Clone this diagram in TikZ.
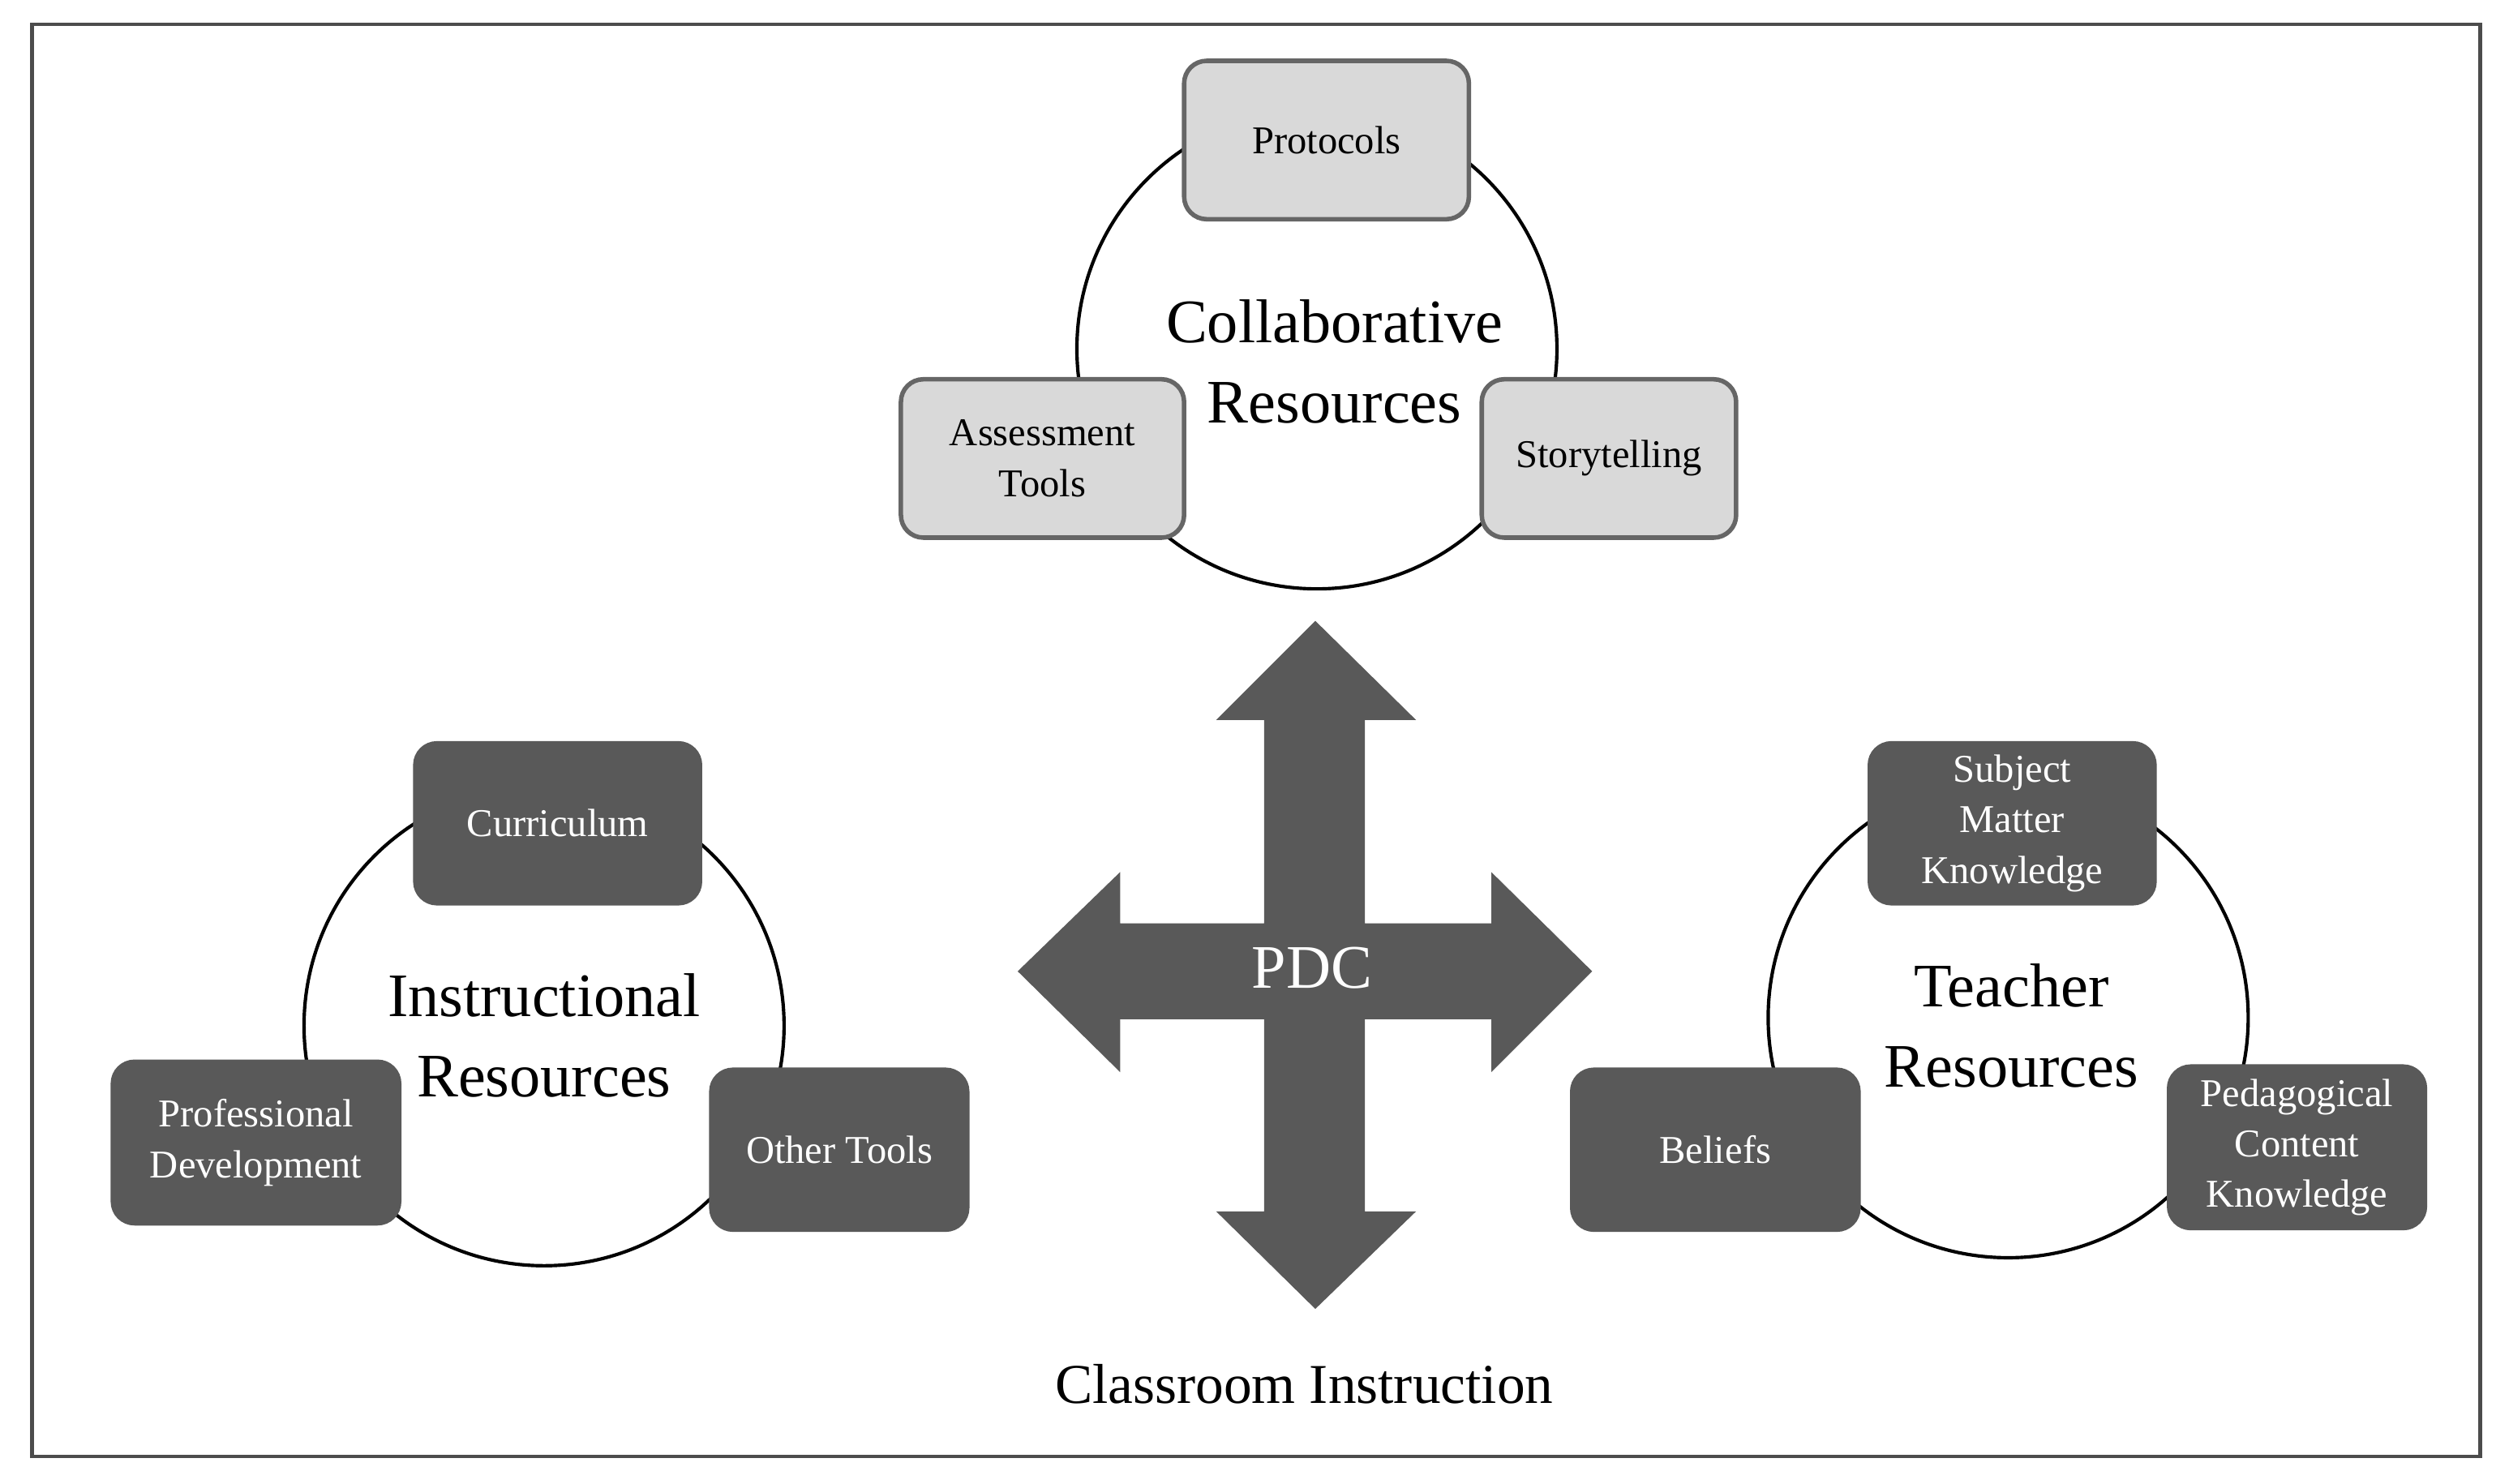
\documentclass[tikz,border=0pt]{standalone}
\usepackage{fontspec}
\setmainfont{Liberation Serif}
\begin{document}
\begin{tikzpicture}[x=0.02cm,y=-0.02cm,
  light/.style={draw=black!60,line width=1.6pt,fill=black!15,rounded corners=8pt,align=center,font=\fontsize{14}{18}\selectfont,inner sep=2pt},
  dark/.style={draw=black!65,line width=1pt,fill=black!65,text=white,rounded corners=8pt,align=center,font=\fontsize{14}{18}\selectfont,inner sep=2pt},
  ring/.style={draw=black,line width=1.2pt,fill=white},
  big/.style={align=center,font=\fontsize{22}{28.5}\selectfont}]
\useasboundingbox (0,0) rectangle (1568,927);
\fill[white] (0,0) rectangle (1568,927);
\draw[black!70,line width=1.2pt] (20,15) rectangle (1550,910);
% circles
\draw[ring] (823,218) circle (150);
\draw[ring] (340,641) circle (150);
\draw[ring] (1255,636) circle (150);
\node[big] (cr) at (834,226) {Collaborative\\Resources};
\node[big] (ir) at (340,647) {Instructional\\Resources};
\node[big] (tr) at (1257,641) {Teacher\\Resources};
% boxes
\node[light,minimum width=3.56cm,minimum height=1.98cm] (p) at (829,87.5) {Protocols};
\node[light,minimum width=3.54cm,minimum height=1.98cm] (a) at (651.5,286.5) {Assessment\\Tools};
\node[light,minimum width=3.18cm,minimum height=1.98cm] (s) at (1005.5,286.5) {Storytelling};
\node[dark,minimum width=3.58cm,minimum height=2.02cm] (c) at (348.5,514.5) {Curriculum};
\node[dark,minimum width=3.6cm,minimum height=2.04cm] (pd) at (160,714) {Professional\\Development};
\node[dark,minimum width=3.22cm,minimum height=2.02cm] (ot) at (524.5,718.5) {Other Tools};
\node[dark,minimum width=3.58cm,minimum height=2.02cm] (smk) at (1257.5,514.5) {Subject\\Matter\\Knowledge};
\node[dark,minimum width=3.6cm,minimum height=2.02cm] (b) at (1072,718.5) {Beliefs};
\node[dark,minimum width=3.22cm,minimum height=2.04cm] (pck) at (1435.5,717) {Pedagogical\\Content\\Knowledge};
% cross arrow
\fill[black!65] (822,388) -- (885,450) -- (853,450) -- (853,577) -- (932,577) -- (932,545) -- (995,607)
  -- (932,670) -- (932,637) -- (853,637) -- (853,757) -- (885,757) -- (822,818) -- (760,757) -- (790,757)
  -- (790,637) -- (700,637) -- (700,670) -- (636,607) -- (700,545) -- (700,577) -- (790,577) -- (790,450)
  -- (760,450) -- cycle;
\node[text=white,font=\fontsize{22}{26}\selectfont] (pdc) at (820,605) {PDC};
\node[font=\fontsize{20}{24}\selectfont] (ci) at (815,865) {Classroom Instruction};
\end{tikzpicture}
\end{document}
